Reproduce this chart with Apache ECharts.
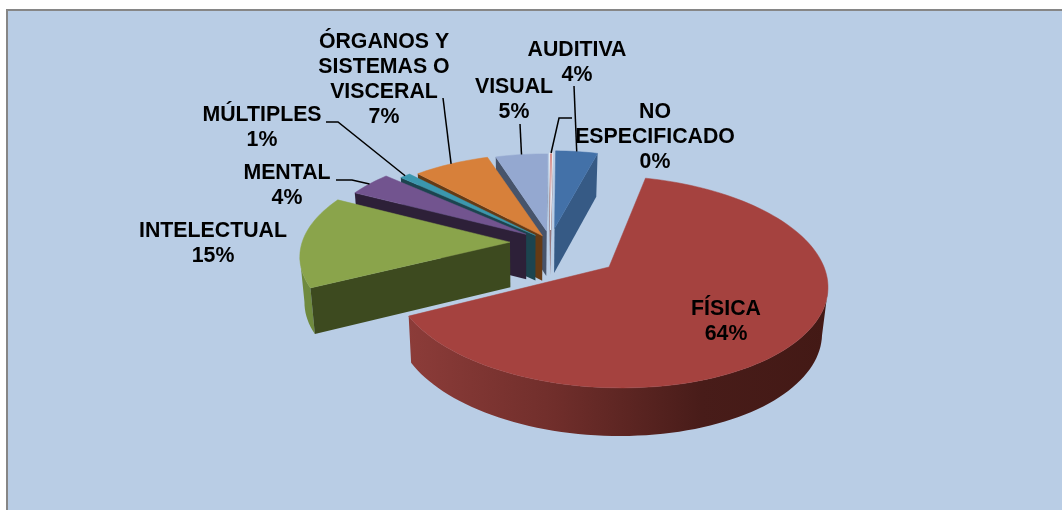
<!DOCTYPE html>
<html>
<head>
<meta charset="utf-8">
<style>html,body{margin:0;padding:0;background:#fff}#chart{width:1062px;height:510px}</style>
<script src="https://cdn.jsdelivr.net/npm/echarts@6/dist/echarts.min.js"></script>
</head>
<body>
<div id="chart"></div>
<script>
// data, clockwise from the first slice
var categories = ['FÍSICA', 'INTELECTUAL', 'MENTAL', 'MÚLTIPLES', 'ÓRGANOS Y\nSISTEMAS O\nVISCERAL', 'VISUAL', 'NO\nESPECIFICADO', 'AUDITIVA'];
var values = [64, 15, 4, 1, 7, 5, 0.3, 4];

// look of each slice
var topColors = ['#A5423F', '#8AA44B', '#72548F', '#3B97AE', '#D7803A', '#94A8D0', '#D9908C', '#4371A8'];
var sideColors = ['#5E2623', '#3D4A1F', '#2D2038', '#1C444F', '#653A14', '#47546B', '#8A5A58', '#365A85'];
var rimColors = ['#8C3C39', '#6F8A3E', '#4A3560', '#276A7A', '#A86228', '#6C7E9E', '#A06A68', '#365A85'];
var explode = [0.361, 0.199, 0.148, 0.105, 0.08, 0.12, 0.13, 0.15];
var explodeTurn = [3.9, 0, 0, 0, 0, 0, 0, 0];
var sliceTurn = [0, 0, 0, 1, 1.8, 2.4, 1.8, 1.6];
var radius = [1, 1, 1, 0.97, 0.97, 0.92, 0.92, 0.93];
var labelCenters = [[726, 322], [213, 244], [287, 186], [262, 128], [384, 80], [514, 100], [655, 137], [577, 63]];
var leaderStarts = [null, null, [[336, 180], [352, 180]], [[326, 122], [338, 122]], [[443, 98]], [[520, 124]], [[572, 118], [559, 118]], [[574, 86]]];

// perspective of the pie plane
var view = {px: 531, py: 267, off: 78, rx: 215, ry: 104, k: 0.14};
var pieCenter = {u: -0.265, v: 0.245};
var firstAngle = 14;
var total = values.reduce(function (a, b) { return a + b; }, 0);

function project(u, v) {
  var U = u + pieCenter.u, t = v + pieCenter.v, d = 1 + view.k * t;
  return [view.px + (view.off + view.rx * U) / d, view.py - view.ry * t / d];
}
function below(p) {
  return [view.px + (p[0] - view.px) * 0.98, p[1] + 45 + 0.02 * (p[1] - 235)];
}
function sliceAngles(i) {
  var a = firstAngle;
  for (var j = 0; j < i; j++) a += values[j] / total * 360;
  return [a, a + values[i] / total * 360];
}
function apexWorld(i) {
  var ang = sliceAngles(i), mid = ((ang[0] + ang[1]) / 2 + explodeTurn[i]) * Math.PI / 180;
  return [explode[i] * Math.sin(mid), explode[i] * Math.cos(mid)];
}
function rimPoint(i, deg) {
  var a = apexWorld(i), r = (deg + sliceTurn[i]) * Math.PI / 180;
  return project(a[0] + radius[i] * Math.sin(r), a[1] + radius[i] * Math.cos(r));
}
function apexPoint(i) {
  var a = apexWorld(i);
  return project(a[0], a[1]);
}

function renderSlice(params) {
  var i = params.dataIndex, ang = sliceAngles(i), apex = apexPoint(i);
  var z = 10 - i, children = [], arc = [];
  var steps = Math.max(2, Math.ceil((ang[1] - ang[0]) / 2));
  for (var s = 0; s <= steps; s++) arc.push(rimPoint(i, ang[0] + (ang[1] - ang[0]) * s / steps));

  // rim: only the run that faces the viewer
  var run = [];
  function flush() {
    if (run.length > 1) {
      var low = run.map(below).reverse();
      var fill = rimColors[i];
      if (i === 0) {
        fill = {type: 'linear', x: 408, y: 0, x2: 828, y2: 0, global: true, colorStops: [
          {offset: 0, color: '#8C3C39'}, {offset: 0.35, color: '#702E2B'},
          {offset: 0.7, color: '#481C19'}, {offset: 1, color: '#431915'}
        ]};
      }
      children.push({type: 'polygon', z2: z, shape: {points: run.concat(low)}, style: {fill: fill}});
    }
    run = [];
  }
  for (s = 1; s <= steps; s++) {
    if (arc[s][0] < arc[s - 1][0]) {
      if (!run.length) run.push(arc[s - 1]);
      run.push(arc[s]);
    } else flush();
  }
  flush();

  // radial walls
  var first = arc[0], last = arc[arc.length - 1];
  if (first[0] < apex[0]) children.push({type: 'polygon', z2: z, shape: {points: [apex, first, below(first), below(apex)]}, style: {fill: sideColors[i]}});
  if (last[0] > apex[0]) children.push({type: 'polygon', z2: z, shape: {points: [apex, last, below(last), below(apex)]}, style: {fill: sideColors[i]}});

  // top
  children.push({type: 'polygon', z2: z, shape: {points: [apex].concat(arc)}, style: {fill: topColors[i], stroke: i === 6 ? '#E4ECF6' : topColors[i], lineWidth: i === 6 ? 1 : 0.5}});

  // leader line and label
  if (leaderStarts[i]) {
    var tip = rimPoint(i, (ang[0] + ang[1]) / 2);
    children.push({type: 'polyline', z2: 30, shape: {points: leaderStarts[i].concat([tip])}, style: {fill: null, stroke: '#000', lineWidth: 1.5}});
  }
  children.push({
    type: 'text', z2: 40,
    style: {
      text: categories[i] + '\n' + Math.round(values[i] / total * 100) + '%',
      x: labelCenters[i][0], y: labelCenters[i][1],
      align: 'center', verticalAlign: 'middle',
      fontFamily: 'Liberation Sans', fontWeight: 'bold', fontSize: 21.3, lineHeight: 25, fill: '#000'
    }
  });
  return {type: 'group', children: children};
}

var myChart = echarts.init(document.getElementById('chart'));
var option = {
  backgroundColor: '#fff',
  animation: false,
  graphic: [{
    type: 'rect', z: 0, silent: true,
    shape: {x: 7, y: 10, width: 1100, height: 600},
    style: {fill: '#B9CDE5', stroke: '#868686', lineWidth: 2}
  }],
  series: [{
    type: 'custom',
    coordinateSystem: 'none',
    silent: true,
    renderItem: renderSlice,
    data: values
  }]
};
myChart.setOption(option);
</script>
</body>
</html>
